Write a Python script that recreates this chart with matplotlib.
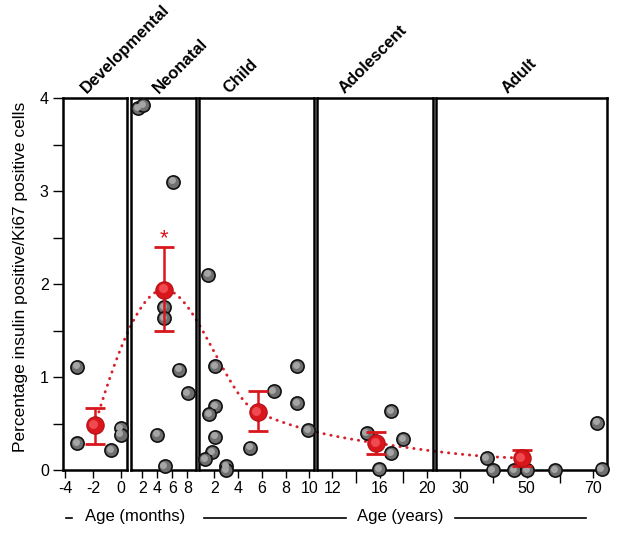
import numpy as np
import matplotlib
matplotlib.use('Agg')
import matplotlib.pyplot as plt
from matplotlib.lines import Line2D
from matplotlib.transforms import offset_copy

plt.rcParams['font.family'] = ['Liberation Sans', 'DejaVu Sans']
plt.rcParams['axes.unicode_minus'] = False

# individual donors, one list pair per age group
dev_x = [-3.13, -3.13, -0.72, 0.0, 0.0]
dev_y = [1.11, 0.29, 0.21, 0.45, 0.38]
neo_x = [1.45, 2.1, 6.1, 4.93, 4.93, 6.9, 8.05, 4.0, 5.0]
neo_y = [3.89, 3.92, 3.10, 1.75, 1.63, 1.08, 0.83, 0.38, 0.04]
child_x = [1.49, 2.06, 8.98, 7.0, 8.98, 2.06, 1.55, 9.88, 2.06, 5.03, 1.83, 1.21, 2.99, 2.99]
child_y = [2.10, 1.12, 1.12, 0.85, 0.72, 0.69, 0.60, 0.43, 0.36, 0.24, 0.19, 0.12, 0.04, 0.0]
adol_x = [16.94, 14.9, 17.98, 16.94, 15.95]
adol_y = [0.63, 0.40, 0.33, 0.18, 0.01]
adult_x = [38.0, 39.8, 46.2, 50.2, 58.5, 72.5, 71.2]
adult_y = [0.13, 0.0, 0.0, 0.0, 0.0, 0.01, 0.51]

# group means with error bars
mean_x = [-1.88, 4.93, 5.64, 15.67, 48.5]
mean_y = [0.48, 1.94, 0.62, 0.29, 0.13]
err_lo = [0.28, 1.49, 0.42, 0.17, 0.04]
err_hi = [0.67, 2.40, 0.85, 0.41, 0.21]

groups = ['Developmental', 'Neonatal', 'Child', 'Adolescent', 'Adult']
xlims = [(-4.2, 0.45), (0.45, 9.1), (0.75, 10.4), (10.7, 20.5), (22.8, 74)]
major_ticks = [[-4, -2, 0], [2, 4, 6, 8], [2, 4, 6, 8, 10], [12, 16, 20], [30, 50, 70]]
minor_ticks = [[], [], [], [14, 18], [40, 60]]
points = [(dev_x, dev_y), (neo_x, neo_y), (child_x, child_y), (adol_x, adol_y), (adult_x, adult_y)]

# panel placement in pixels (left, right)
W, H = 624, 537
panel_px = [(62.7, 127), (130.7, 195.5), (199.5, 314), (317, 433), (436, 606.7)]
title_pos = [0.37, 0.44, 0.26, 0.24, 0.42]
bottom, top = 1 - 470 / H, 1 - 98 / H

red = '#d8161c'
fig = plt.figure(figsize=(W / 100, H / 100), dpi=100)
axes = []
for i, (l, r) in enumerate(panel_px):
    ax = fig.add_axes([l / W, bottom, (r - l) / W, top - bottom])
    ax.set_facecolor('none')
    ax.set_xlim(*xlims[i])
    ax.set_ylim(0, 4)
    for s in ax.spines.values():
        s.set_linewidth(1.8)
    ax.set_xticks(major_ticks[i])
    ax.set_xticks(minor_ticks[i], minor=True)
    ax.tick_params(axis='x', which='major', direction='out', length=6, width=1, labelsize=11.5, pad=2)
    ax.tick_params(axis='x', which='minor', direction='out', length=9, width=1)
    if i == 0:
        ax.set_yticks([0, 1, 2, 3, 4])
        ax.set_yticks(np.arange(0.5, 4, 1.0), minor=True)
        ax.tick_params(axis='y', which='both', direction='out', length=7, width=1, labelsize=11.5, pad=3)
    else:
        ax.set_yticks([])
    px, py = points[i]
    hl = offset_copy(ax.transData, fig=fig, x=-1.3, y=1.3, units='dots')
    ax.plot(px, py, 'o', ms=9.5, mfc='#6f6f6f', mec='#111111', mew=1.2, clip_on=False, zorder=3)
    ax.plot(px, py, 'o', ms=5, mfc='#a5a5a5', mec='none', clip_on=False, zorder=3, transform=hl)
    ax.errorbar([mean_x[i]], [mean_y[i]],
                yerr=[[mean_y[i] - err_lo[i]], [err_hi[i] - mean_y[i]]],
                fmt='none', ecolor=red, elinewidth=1.8, capsize=7, capthick=2, zorder=4)
    ax.plot([mean_x[i]], [mean_y[i]], 'o', ms=12.5, mfc=red, mec='#b01015', mew=0.8, zorder=5)
    ax.plot([mean_x[i]], [mean_y[i]], 'o', ms=6.5, mfc='#ee4a50', mec='none', zorder=5, transform=hl)
    ax.text(title_pos[i], 1.012, groups[i], transform=ax.transAxes, rotation=45,
            rotation_mode='anchor', ha='left', va='baseline', fontsize=12, fontweight='bold')
    axes.append(ax)

# significance star over neonatal mean
axes[1].text(mean_x[1], 2.43, '*', color=red, fontsize=16, ha='center', va='baseline')


# dotted trend through the means, drawn across panels (monotone cubic in figure space)
def pchip(xk, yk, xs):
    h = np.diff(xk)
    d = np.diff(yk) / h
    n = len(xk)
    m = np.zeros(n)
    for k in range(1, n - 1):
        if d[k - 1] * d[k] > 0:
            w1 = 2 * h[k] + h[k - 1]
            w2 = h[k] + 2 * h[k - 1]
            m[k] = (w1 + w2) / (w1 / d[k - 1] + w2 / d[k])
    def end(h0, h1, d0, d1):
        v = ((2 * h0 + h1) * d0 - h0 * d1) / (h0 + h1)
        if np.sign(v) != np.sign(d0):
            v = 0.0
        elif np.sign(d0) != np.sign(d1) and abs(v) > abs(3 * d0):
            v = 3 * d0
        return v
    m[0] = end(h[0], h[1], d[0], d[1])
    m[-1] = end(h[-1], h[-2], d[-1], d[-2])
    out = np.empty_like(xs)
    for j, x in enumerate(xs):
        k = min(max(np.searchsorted(xk, x, side='right') - 1, 0), n - 2)
        t = (x - xk[k]) / h[k]
        h00 = 2 * t**3 - 3 * t**2 + 1
        h10 = t**3 - 2 * t**2 + t
        h01 = -2 * t**3 + 3 * t**2
        h11 = t**3 - t**2
        out[j] = h00 * yk[k] + h10 * h[k] * m[k] + h01 * yk[k + 1] + h11 * h[k] * m[k + 1]
    return out


inv = fig.transFigure.inverted()
pts = np.array([inv.transform(axes[i].transData.transform((mean_x[i], mean_y[i]))) for i in range(5)])
xs = np.linspace(pts[0, 0], pts[-1, 0], 400)
ys = pchip(pts[:, 0], pts[:, 1], xs)
fig.add_artist(Line2D(xs, ys, transform=fig.transFigure, color='#d8202a', lw=2.1,
                      linestyle=(0, (0.1, 2.3)), dash_capstyle='round', zorder=-1))

# axis labels
fig.text(21 / W, 1 - 277 / H, 'Percentage insulin positive/Ki67 positive cells',
         rotation=90, ha='center', va='center', fontsize=12.5)
ylab = 1 - 516 / H
fig.text(85 / W, ylab, 'Age (months)', ha='left', va='center', fontsize=12)
fig.text(357 / W, ylab, 'Age (years)', ha='left', va='center', fontsize=12)
yl = 1 - 518 / H
for a, b in [(66, 72), (204, 346), (455, 586)]:
    fig.add_artist(Line2D([a / W, b / W], [yl, yl], transform=fig.transFigure, color='black', lw=1.2))

fig.savefig('out.png', dpi=100)
